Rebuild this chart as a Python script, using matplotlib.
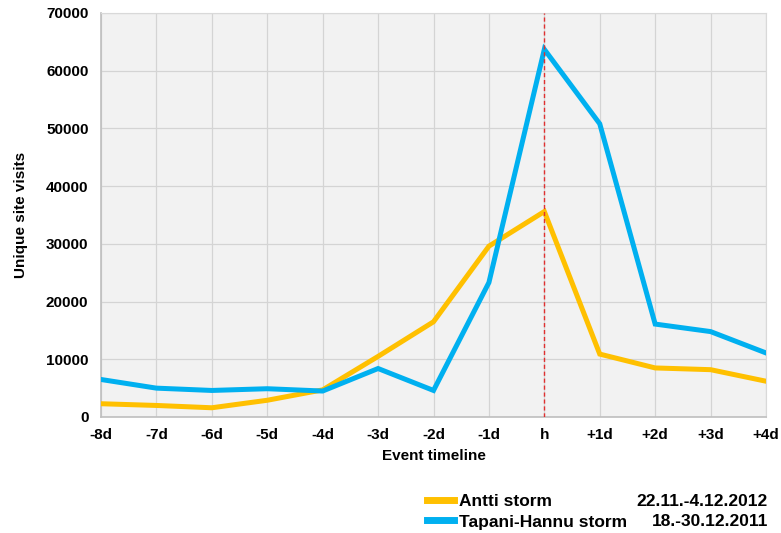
import matplotlib
matplotlib.use('Agg')
import matplotlib.pyplot as plt
import numpy as np

## data
timeline = ['-8d', '-7d', '-6d', '-5d', '-4d', '-3d', '-2d', '-1d', 'h',
            '+1d', '+2d', '+3d', '+4d']
antti = [2300, 2000, 1600, 2900, 4700, 10500, 16500, 29600, 35600,
         10900, 8500, 8200, 6200]
tapani = [6500, 5000, 4600, 4900, 4500, 8400, 4600, 23300, 63700,
          50800, 16100, 14800, 11100]
series_names = ['Antti storm', 'Tapani-Hannu storm']
series_dates = ['22.11.-4.12.2012', '18.-30.12.2011']
event_index = timeline.index('h')

plt.rcParams['font.family'] = ['Liberation Sans', 'DejaVu Sans']
plt.rcParams['font.weight'] = 'bold'

fig = plt.figure(figsize=(7.81, 5.33), dpi=100)
ax = fig.add_axes([101/781, 1-417/533, (766-101)/781, (417-13)/533])
ax.set_facecolor('#f2f2f2')

x = np.arange(len(timeline))
ax.plot(x, antti, color='#FFC000', lw=3.6, label=series_names[0],
        solid_joinstyle='miter', zorder=3)
ax.plot(x, tapani, color='#00B0F0', lw=3.6, label=series_names[1],
        solid_joinstyle='miter', zorder=4)
ax.axvline(event_index, color='#e03030', lw=1, ls=(0, (3, 2)), zorder=5)

ax.set_xlim(0, len(timeline)-1)
ax.set_ylim(0, 70000)
ax.set_xticks(x)
ax.set_xticklabels(timeline)
ax.set_yticks(np.arange(0, 70001, 10000))
ax.grid(True, color='#d4d4d4', lw=0.9)
ax.set_axisbelow(True)
ax.tick_params(length=0, labelsize=11)
ax.tick_params(axis='x', pad=8)
ax.tick_params(axis='y', pad=9)
for lbl in ax.get_xticklabels() + ax.get_yticklabels():
    lbl.set_fontweight('bold')
for side in ['top', 'right']:
    ax.spines[side].set_color('#d9d9d9')
for side in ['left', 'bottom']:
    ax.spines[side].set_color('#bfbfbf')
    ax.spines[side].set_linewidth(1.2)

ax.set_ylabel('Unique site visits', fontsize=11, fontweight='bold', labelpad=13)
ax.set_xlabel('Event timeline', fontsize=11, fontweight='bold', labelpad=5)

leg = ax.legend(loc='upper left', bbox_to_anchor=(427/781, 1-494/533),
                bbox_transform=fig.transFigure, frameon=False,
                fontsize=12.5, handlelength=1.55, handletextpad=0.3,
                labelspacing=0.3, borderpad=0, borderaxespad=0)
for line in leg.get_lines():
    line.set_linewidth(5)
for t in leg.get_texts():
    t.set_fontweight('bold')

## dates right of the legend entries
for i, d in enumerate(series_dates):
    fig.text(768/781, 1-(501+21*i)/533, d, ha='right', va='center',
             fontsize=12.5, fontweight='bold')

fig.savefig('out.png', dpi=100)
